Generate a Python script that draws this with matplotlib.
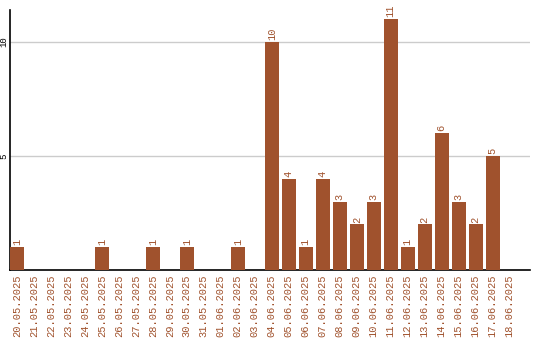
import matplotlib
matplotlib.use("Agg")
import matplotlib.pyplot as plt

dates = ["20.05.2025", "21.05.2025", "22.05.2025", "23.05.2025", "24.05.2025",
         "25.05.2025", "26.05.2025", "27.05.2025", "28.05.2025", "29.05.2025",
         "30.05.2025", "31.05.2025", "01.06.2025", "02.06.2025", "03.06.2025",
         "04.06.2025", "05.06.2025", "06.06.2025", "07.06.2025", "08.06.2025",
         "09.06.2025", "10.06.2025", "11.06.2025", "12.06.2025", "13.06.2025",
         "14.06.2025", "15.06.2025", "16.06.2025", "17.06.2025", "18.06.2025"]
counts = [1, 0, 0, 0, 0, 1, 0, 0, 1, 0, 1, 0, 0, 1, 0,
          10, 4, 1, 4, 3, 2, 3, 11, 1, 2, 6, 3, 2, 5, 0]
yticks = [5, 10]

brown = "#A0522D"
plt.rcParams["font.family"] = ["Liberation Mono", "DejaVu Sans Mono"]

fig = plt.figure(figsize=(5.4, 3.4), dpi=100)
ax = fig.add_axes([10 / 540, 70 / 340, 520 / 540, 260 / 340])

x = range(len(dates))
ax.bar(x, counts, width=0.82, color=brown, zorder=3)
for i, v in enumerate(counts):
    if v > 0:
        ax.text(i, v + 0.08, str(v), rotation=90, ha="center", va="bottom",
                color=brown, fontsize=7.5)

ax.set_xlim(-0.41, 30.2)
ax.set_ylim(0, 11.4)
ax.set_xticks(list(x))
ax.set_xticklabels(dates, rotation=90, color=brown, fontsize=7.5)
ax.set_yticks(yticks)
ax.set_yticklabels([str(t) for t in yticks], rotation=90, fontsize=6.5,
                   va="center")
ax.tick_params(axis="x", length=0, pad=3)
ax.tick_params(axis="y", length=0, pad=1)
ax.yaxis.grid(True, color="#cccccc", linewidth=1, zorder=0)
ax.spines["top"].set_visible(False)
ax.spines["right"].set_visible(False)
ax.spines["left"].set_linewidth(1.2)
ax.spines["bottom"].set_linewidth(1.2)

fig.savefig("out.png", dpi=100)
